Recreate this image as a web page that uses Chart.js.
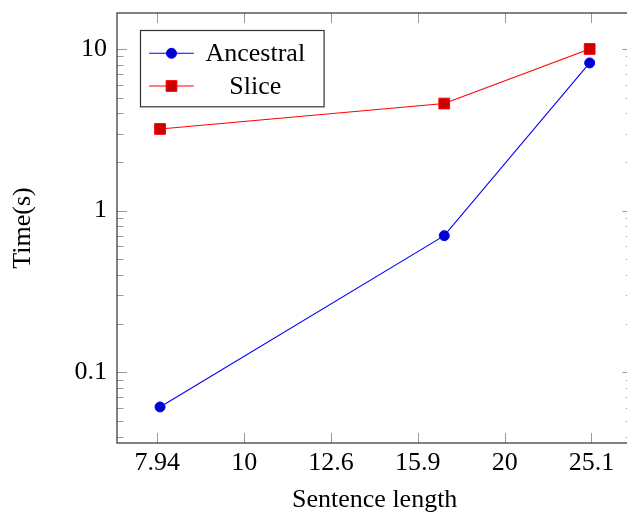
<!DOCTYPE html>
<html><head><meta charset="utf-8">
<script src="https://cdn.jsdelivr.net/npm/chart.js@4"></script>
<style>
html,body{margin:0;padding:0;background:#fff;overflow:hidden;width:627px;height:516px}
#wrap{width:641px;height:516px}
</style></head><body>
<div id="wrap"><canvas id="c" width="641" height="516"></canvas></div>
<script>
// ---- data ----
const sentenceLength = [8, 17, 25];
const ancestralTime = [0.061, 0.70, 8.2];
const sliceTime = [3.2, 4.6, 10];
const seriesNames = ['Ancestral', 'Slice'];
const xTickValues = [7.943, 10, 12.589, 15.849, 19.953, 25.119];
const xTickLabels = ['7.94', '10', '12.6', '15.9', '20', '25.1'];
const yTickValues = [0.1, 1, 10];
const yTickLabels = ['0.1', '1', '10'];
const xTitle = 'Sentence length';
const yTitle = 'Time(s)';

const FONT = 'Liberation Serif';
const FS = 26;
Chart.defaults.font.family = FONT;
Chart.defaults.font.size = FS;
Chart.defaults.color = '#000';

const COLORS = {
  Ancestral: {line: '#0000ff', fill: '#0000cc', style: 'circle', r: 5},
  Slice: {line: '#ff0000', fill: '#cc0000', style: 'rect', r: 7.6}
};

function mkDataset(name, ys) {
  const c = COLORS[name];
  return {
    label: name,
    data: sentenceLength.map((x, i) => ({x: x, y: ys[i]})),
    borderColor: c.line,
    borderWidth: 1.1,
    backgroundColor: c.fill,
    pointBackgroundColor: c.fill,
    pointBorderColor: c.line,
    pointBorderWidth: 1,
    pointStyle: c.style,
    pointRadius: c.r,
    pointHoverRadius: c.r,
    tension: 0,
    fill: false
  };
}

const frame = {
  id: 'frame',
  beforeDatasetsDraw(chart) {
    const ctx = chart.ctx, a = chart.chartArea;
    const xs = chart.scales.x, ys = chart.scales.y;
    ctx.save();
    ctx.strokeStyle = '#999999';
    ctx.lineWidth = 1;
    const MAJ = 10, MIN = 6.5;
    ctx.beginPath();
    xTickValues.forEach(v => {
      const px = Math.round(xs.getPixelForValue(v)) + 0.5;
      ctx.moveTo(px, a.bottom); ctx.lineTo(px, a.bottom - MAJ);
      ctx.moveTo(px, a.top); ctx.lineTo(px, a.top + MAJ);
    });
    yTickValues.forEach(v => {
      const py = Math.round(ys.getPixelForValue(v)) + 0.5;
      ctx.moveTo(a.left, py); ctx.lineTo(a.left + MAJ, py);
      ctx.moveTo(a.right, py); ctx.lineTo(a.right - MAJ, py);
    });
    for (let k = -3; k <= 2; k++) {
      for (let m = 2; m <= 9; m++) {
        const v = m * Math.pow(10, k);
        if (v < ys.min || v > ys.max) continue;
        const py = Math.round(ys.getPixelForValue(v)) + 0.5;
        ctx.moveTo(a.left, py); ctx.lineTo(a.left + MIN, py);
        ctx.moveTo(a.right, py); ctx.lineTo(a.right - MIN, py);
      }
    }
    ctx.stroke();
    ctx.strokeStyle = '#404040';
    ctx.lineWidth = 1.3;
    ctx.strokeRect(a.left, a.top, a.right - a.left, a.bottom - a.top);
    ctx.restore();
  },
  afterDraw(chart) {
    const ctx = chart.ctx, a = chart.chartArea;
    const L = a.left + 23.5, T = a.top + 17.5, W = 183.6, H = 76.3;
    ctx.save();
    ctx.fillStyle = '#fff';
    ctx.fillRect(L, T, W, H);
    ctx.strokeStyle = '#333';
    ctx.lineWidth = 1.2;
    ctx.strokeRect(L, T, W, H);
    const rows = [T + 22.8, T + 55.5];
    chart.data.datasets.forEach((ds, i) => {
      const y = rows[i];
      ctx.strokeStyle = ds.borderColor;
      ctx.lineWidth = ds.borderWidth;
      ctx.beginPath();
      ctx.moveTo(L + 8.6, y); ctx.lineTo(L + 53.3, y);
      ctx.stroke();
      ctx.fillStyle = ds.pointBackgroundColor;
      ctx.strokeStyle = ds.pointBorderColor;
      ctx.lineWidth = 1;
      ctx.beginPath();
      if (ds.pointStyle === 'circle') {
        ctx.arc(L + 31, y, ds.pointRadius, 0, Math.PI * 2);
      } else {
        const s = ds.pointRadius * Math.SQRT1_2;
        ctx.rect(L + 31 - s, y - s, 2 * s, 2 * s);
      }
      ctx.fill(); ctx.stroke();
      ctx.fillStyle = '#000';
      ctx.font = FS + 'px "' + FONT + '"';
      ctx.textAlign = 'center';
      ctx.textBaseline = 'alphabetic';
      ctx.fillText(ds.label, L + 114.8, y + 8);
    });
    ctx.restore();
  }
};

new Chart(document.getElementById('c'), {
  type: 'line',
  data: {
    datasets: [mkDataset(seriesNames[0], ancestralTime), mkDataset(seriesNames[1], sliceTime)]
  },
  options: {
    responsive: false,
    animation: false,
    devicePixelRatio: 1,
    layout: {padding: {top: 13, right: 6, left: 0, bottom: 0}},
    plugins: {legend: {display: false}, tooltip: {enabled: false}},
    scales: {
      x: {
        type: 'logarithmic',
        min: 7.137, max: 28.0,
        bounds: 'data',
        grid: {display: false, drawTicks: false},
        border: {display: false},
        afterBuildTicks: s => { s.ticks = xTickValues.map(v => ({value: v})); },
        afterFit: s => { s.height = 73; s.paddingLeft = 0; s.paddingRight = 0; s.paddingTop = 0; s.paddingBottom = 0; },
        ticks: {
          autoSkip: false, maxRotation: 0, minRotation: 0, padding: 5,
          callback: (v, i) => xTickLabels[i]
        },
        title: {display: true, text: xTitle, padding: {top: 0, bottom: 0}}
      },
      y: {
        type: 'logarithmic',
        min: 0.0365, max: 16.7,
        bounds: 'data',
        grid: {display: false, drawTicks: false},
        border: {display: false},
        afterBuildTicks: s => { s.ticks = yTickValues.map(v => ({value: v})); },
        afterFit: s => { s.width = 117; s.paddingLeft = 0; s.paddingRight = 0; s.paddingTop = 0; s.paddingBottom = 0; },
        ticks: {
          autoSkip: false, padding: 10,
          callback: (v, i) => yTickLabels[i]
        },
        title: {display: true, text: yTitle, padding: {top: 8, bottom: 0}}
      }
    }
  },
  plugins: [frame]
});
</script>
</body></html>
